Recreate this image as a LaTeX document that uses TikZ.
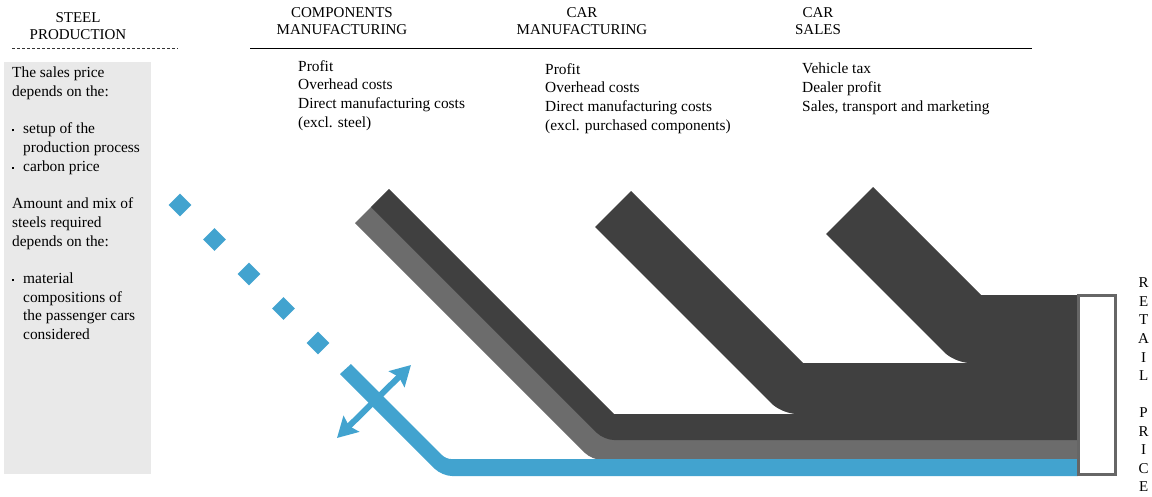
\documentclass[tikz,border=0pt]{standalone}
\usepackage{fontspec}
\setmainfont{Liberation Serif}
\usetikzlibrary{positioning,shapes.geometric,arrows.meta}
\definecolor{flowdark}{HTML}{404040}
\definecolor{flowsteel}{HTML}{6C6C6C}
\definecolor{flowblue}{HTML}{42A3CF}
\definecolor{panelgray}{HTML}{E9E9E9}
\definecolor{boxgray}{HTML}{666666}
\tikzset{
    stage-title/.style = {align=center, inner sep=0pt, font=\fontsize{15}{17.5}\selectfont},
    cost-list/.style = {align=left, anchor=north west, inner sep=0pt, font=\fontsize{15.4}{18.7}\selectfont},
    steel-dot/.style = {diamond, fill=flowblue, inner sep=0pt, minimum size=23pt},
    trade-arrow/.style = {flowblue, line width=6pt,
        arrows={Stealth[width=22pt, length=20pt, inset=3pt]-Stealth[width=22pt, length=20pt, inset=3pt]}},
}
\newcommand{\listdot}{\makebox[11pt][l]{\rule[2.5pt]{2pt}{2pt}}}

\begin{document}
\begin{tikzpicture}[x=1pt, y=-1pt]
\useasboundingbox (0,0) rectangle (1152,496);

% stage headers
\node[stage-title] (steel) at (78,26) {STEEL\\PRODUCTION};
\node[stage-title] (comp) at (342,21) {COMPONENTS\\MANUFACTURING};
\node[stage-title] (carman) at (582,21) {CAR\\MANUFACTURING};
\node[stage-title] (carsales) at (818,21) {CAR\\SALES};
\draw[black!80, dash pattern=on 3pt off 2pt] (12,48) -- (178,48);
\draw[black] (250,48) -- (1032,48);

% steel panel
\fill[panelgray] (4,62) rectangle (151,474);
\node[cost-list] (steelnote) at (12,67) {The sales price\\depends on the:\\[18.7pt]
  \listdot setup of the\\\hspace*{11pt}production process\\\listdot carbon price\\[18.7pt]
  Amount and mix of\\steels required\\depends on the:\\[18.7pt]
  \listdot material\\\hspace*{11pt}compositions of\\\hspace*{11pt}the passenger cars\\\hspace*{11pt}considered};

% cost lists
\node[cost-list] (complist) at (298,60) {Profit\\Overhead costs\\Direct manufacturing costs\\(excl. steel)};
\node[cost-list] (carmanlist) at (545,63) {Profit\\Overhead costs\\Direct manufacturing costs\\(excl. purchased components)};
\node[cost-list] (carsaleslist) at (802,63) {Vehicle tax\\Dealer profit\\Sales, transport and marketing};

% flows, back to front
\fill[flowdark] (873,187) -- (981,295) -- (1078,295) -- (1078,363) [rounded corners=15pt] -- (955,363) [sharp corners] -- (826,234) -- cycle;
\fill[flowdark] (631,191) -- (803,363) -- (1078,363) -- (1078,414) [rounded corners=15pt] -- (782,414) [sharp corners] -- (595,227) -- cycle;
\fill[flowsteel] (389,189) -- (614,414) -- (1078,414) -- (1078,460) [rounded corners=10pt] -- (592,460) [sharp corners] -- (355,223) -- cycle;
\fill[flowdark] (389,189) -- (614,414) -- (1078,414) -- (1078,440) [rounded corners=10pt] -- (604,440) [sharp corners] -- (371,207) -- cycle;
\fill[flowblue] (351,364) [rounded corners=5pt] -- (446,459) [sharp corners] -- (1078,459) -- (1078,476) [rounded corners=10pt] -- (442,476) [sharp corners] -- (340,374) -- cycle;

% steel supply dots
\foreach \i in {0,...,4}
  \node[steel-dot] (dot\i) at (180+34.5*\i, 205+34.5*\i) {};

% trade arrow
\coordinate (tradein) at (337,438);
\coordinate (tradeout) at (411,365);
\draw[trade-arrow] (tradein) -- (tradeout);

% retail price
\node[draw=boxgray, fill=white, line width=3pt, minimum width=37pt, minimum height=179pt, inner sep=0pt] (retail) at (1097,385) {};
\node[align=center, inner sep=0pt, font=\fontsize{15}{18.55}\selectfont, right=21pt of retail] (retailtext) {R\\E\\T\\A\\I\\L\\[18.55pt]P\\R\\I\\C\\E};
\end{tikzpicture}
\end{document}
